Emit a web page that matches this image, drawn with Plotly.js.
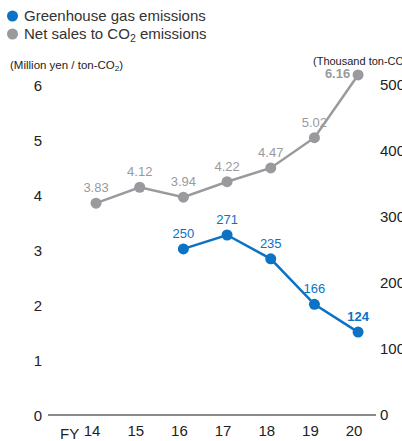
<!DOCTYPE html>
<html><head><meta charset="utf-8">
<script src="https://cdn.plot.ly/plotly-3.0.1.min.js"></script>
<style>html,body{margin:0;padding:0;background:#fff;}#c{width:402px;height:441px;}</style>
</head><body><div id="c"></div>
<script>
const categories = ["14","15","16","17","18","19","20"];
const salesYears = ["14","15","16","17","18","19","20"];
const salesValues = [3.83, 4.12, 3.94, 4.22, 4.47, 5.02, 6.16];
const ghgYears = ["16","17","18","19","20"];
const ghgValues = [250, 271, 235, 166, 124];
const leftTicks = [0,1,2,3,4,5,6];
const rightTicks = [0,100,200,300,400,500];

const FONT = "'Liberation Sans Narrow', 'Arial Narrow', 'Liberation Sans', sans-serif";
const BLUE = "#0b72c4";
const GRAY = "#9a9a9e";

const salesText = salesValues.map((v,i)=> i===salesValues.length-1 ? "<b>"+v.toFixed(2)+"</b>" : v.toFixed(2));
const salesPos = salesValues.map((v,i)=> i===salesValues.length-1 ? "middle left" : "top center");
const ghgText = ghgValues.map((v,i)=> i===ghgValues.length-1 ? "<b>"+v+"</b>" : String(v));

const traces = [
  {x: salesYears, y: salesValues, type:"scatter", mode:"lines+markers+text",
   line:{color:GRAY, width:2.5}, marker:{color:GRAY, size:11},
   text: salesText, textposition: salesPos, textfont:{family:FONT, size:13, color:GRAY},
   cliponaxis:false, showlegend:false, yaxis:"y"},
  {x: ghgYears, y: ghgValues, type:"scatter", mode:"lines+markers+text",
   line:{color:BLUE, width:2.5}, marker:{color:BLUE, size:11},
   text: ghgText, textposition:"top center", textfont:{family:FONT, size:13, color:BLUE},
   cliponaxis:false, showlegend:false, yaxis:"y2"}
];

const YMAX = 6.25;
const W = 402, H = 441, L = 48, R = 26;
const Y0 = 414, unit = 55;
const B = H - Y0;
const T = Math.round(Y0 - YMAX*unit);
const pw = W-L-R, ph = H-T-B;
const px = x => (x-L)/pw;
const py = y => (H-B-y)/ph;

const layout = {
  width: W, height: H,
  margin:{l:L, r:R, t:T, b:B, pad:0},
  paper_bgcolor:"#fff", plot_bgcolor:"#fff",
  font:{family:FONT, size:14, color:"#222"},
  showlegend:false,
  xaxis:{type:"category", categoryarray:categories, range:[-1.1, 6.41],
         tickvals:categories, ticktext:categories, showgrid:false, zeroline:false,
         showline:true, linecolor:"#8a8a8a", linewidth:1.5, ticks:"",
         ticklabelshift:-4, ticklabelstandoff:2,
         tickfont:{family:FONT, size:15, color:"#222"}, fixedrange:true},
  yaxis:{range:[0,YMAX], tickvals:leftTicks, showgrid:false, zeroline:false, showline:false,
         ticks:"", ticklabelstandoff:5, ticklabelshift:2, tickfont:{family:FONT, size:15, color:"#222"}},
  yaxis2:{range:[0,YMAX*500/6], tickvals:rightTicks, overlaying:"y", side:"right", showgrid:false,
          zeroline:false, showline:false, ticks:"", ticklabelstandoff:3, ticklabelshift:1,
          tickfont:{family:FONT, size:15, color:"#222"}},
  shapes:[
    {type:"circle", xref:"paper", yref:"paper", x0:px(7), x1:px(18), y0:py(21.5), y1:py(10.5),
     fillcolor:BLUE, line:{width:0}},
    {type:"circle", xref:"paper", yref:"paper", x0:px(7), x1:px(18), y0:py(39.5), y1:py(28.5),
     fillcolor:GRAY, line:{width:0}}
  ],
  annotations:[
    {xref:"paper", yref:"paper", x:px(22), y:py(16), xanchor:"left", yanchor:"middle",
     text:"Greenhouse gas emissions", showarrow:false, font:{family:FONT, size:15, color:"#333"}},
    {xref:"paper", yref:"paper", x:px(22), y:py(34), xanchor:"left", yanchor:"middle",
     text:"Net sales to CO<sub>2</sub> emissions", showarrow:false, font:{family:FONT, size:15, color:"#333"}},
    {xref:"paper", yref:"paper", x:px(8), y:py(66), xanchor:"left", yanchor:"middle",
     text:"(Million yen / ton-CO<sub>2</sub>)", showarrow:false, font:{family:FONT, size:11.5, color:"#222"}},
    {xref:"paper", yref:"paper", x:px(311), y:py(62), xanchor:"left", yanchor:"middle",
     text:"(Thousand ton-CO<sub>2</sub>)", showarrow:false, font:{family:FONT, size:11, color:"#222"}},
    {xref:"paper", yref:"paper", x:px(69), y:py(433), xanchor:"center", yanchor:"middle",
     text:"FY", showarrow:false, font:{family:FONT, size:15, color:"#222"}}
  ]
};

Plotly.newPlot("c", traces, layout, {displayModeBar:false, staticPlot:true});
</script></body></html>
